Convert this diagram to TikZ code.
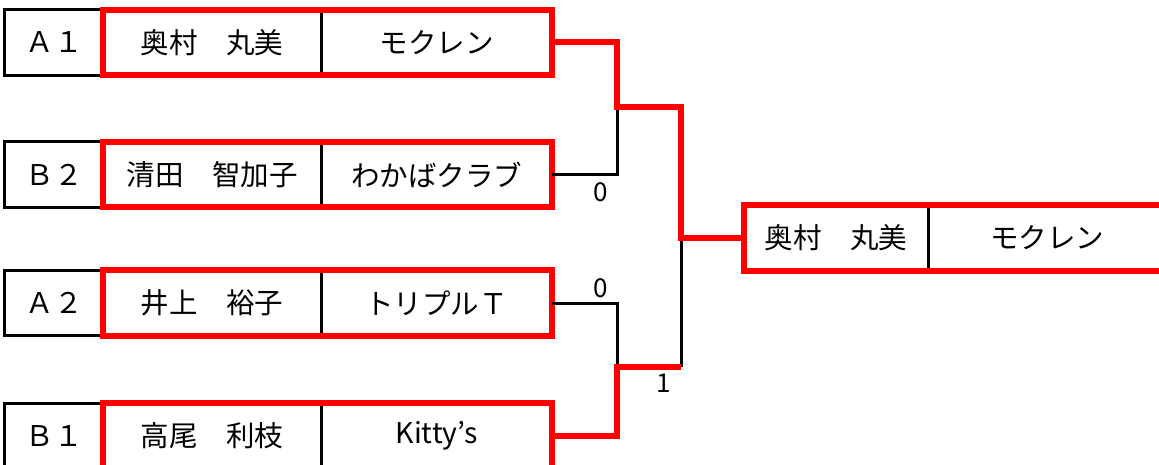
\documentclass[tikz,border=0pt]{standalone}
\usepackage{fontspec}
\setmainfont{Noto Sans CJK JP}
\begin{document}
\begin{tikzpicture}[x=1pt,y=-1pt,
  cell/.style={inner sep=0pt, minimum height=65pt, font=\fontsize{28.5}{32}\selectfont},
  blk/.style={draw=black, line width=3pt},
  redline/.style={draw=red, line width=6pt},
  score/.style={inner sep=0pt, font=\fontsize{26}{28}\selectfont}]
\useasboundingbox (0,0) rectangle (1159,465);
\clip (0,0) rectangle (1159,465);
\foreach \id/\y/\lab/\name/\team in {A1/42.5/Ａ１/奥村　丸美/モクレン, B2/174.5/Ｂ２/清田　智加子/わかばクラブ, A2/303/Ａ２/井上　裕子/トリプルＴ, B1/436/Ｂ１/高尾　利枝/Kitty’s}{
  \node[cell, minimum width=98pt] (l\id) at (54,\y) {\lab};
  \node[cell, minimum width=218pt] (n\id) at (212,\y) {\name};
  \node[cell, minimum width=231pt] (t\id) at (436.5,\y) {\team};
  \draw[blk] (l\id.north west) rectangle (l\id.south east);
  \draw[blk] (n\id.north east) -- (n\id.south east);
  \draw[redline] (n\id.north west) rectangle (t\id.south east);
}
% winner
\node[cell, minimum width=184pt] (nW) at (836,238) {奥村　丸美};
\node[cell, minimum width=238pt] (tW) at (1047,238) {モクレン};
\draw[blk] (nW.north east) -- (nW.south east);
\draw[redline] (nW.north west) rectangle (tW.south east);
% bracket coordinates
\coordinate (j1) at (617,107);
\coordinate (j2) at (617,367);
\coordinate (jf) at (681,238);
% black (losing) lines
\draw[blk] (tB2.east) -| (j1);
\draw[blk] (tA2.east) -| (j2);
\draw[blk] (jf) -- (jf |- j2);
% red (winning) lines
\draw[redline] (tA1.east) -| (j1) -- (jf |- j1) -- (jf) -- (nW.west);
\draw[redline] (tB1.east) -| (j2) -- (jf |- j2);
% scores
\node[score] (s1) at (601,192) {0};
\node[score] (s2) at (601,288) {0};
\node[score] (s3) at (664,383) {1};
\end{tikzpicture}
\end{document}
